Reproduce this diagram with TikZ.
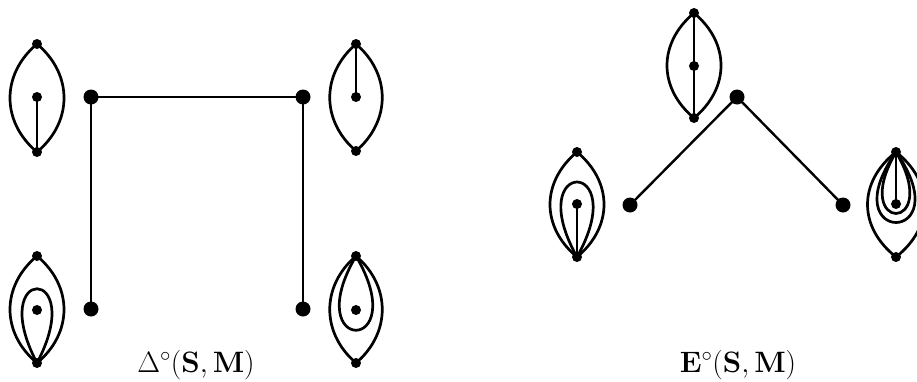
\RequirePackage{fix-cm}
\documentclass[tikz,border=0pt]{standalone}
\usepackage{amsmath}
\begin{document}
\begin{tikzpicture}[x=1pt,y=-1pt,
  bigdot/.style={circle,fill=black,inner sep=0pt,minimum size=15pt},
  smalldot/.style={circle,fill=black,inner sep=0pt,minimum size=10pt},
  edge/.style={line width=2.4pt},
  curve/.style={line width=2.7pt},
  lbl/.style={anchor=base,inner sep=0pt,font=\fontsize{29.5}{34}\selectfont}]
\useasboundingbox (0,0) rectangle (917,381);
% ---------- left diagram ----------
\node[bigdot] (A) at (91,97) {};
\node[bigdot] (B) at (303,97) {};
\node[bigdot] (C) at (91,309) {};
\node[bigdot] (D) at (303,309) {};
\draw[edge] (C.center) -- (A.center) -- (B.center) -- (D.center);
% lens top-left
\node[smalldot] (a1) at (37,44) {};
\node[smalldot] (a2) at (37,152) {};
\node[smalldot] (a3) at (37,97) {};
\draw[curve] (a1.center) .. controls +(-36,30) and +(-36,-30) .. (a2.center);
\draw[curve] (a1.center) .. controls +(36,30) and +(36,-30) .. (a2.center);
\draw[curve] (a2.center) -- (a3.center);
% lens top-right
\node[smalldot] (b1) at (356,44) {};
\node[smalldot] (b2) at (356,151) {};
\node[smalldot] (b3) at (356,97) {};
\draw[curve] (b1.center) .. controls +(-35,30) and +(-35,-30) .. (b2.center);
\draw[curve] (b1.center) .. controls +(35,30) and +(35,-30) .. (b2.center);
\draw[curve] (b1.center) -- (b3.center);
% lens bottom-left
\node[smalldot] (c1) at (37,256) {};
\node[smalldot] (c2) at (37,363) {};
\node[smalldot] (c3) at (37,310) {};
\draw[curve] (c1.center) .. controls +(-36,30) and +(-36,-30) .. (c2.center);
\draw[curve] (c1.center) .. controls +(36,30) and +(36,-30) .. (c2.center);
\draw[curve] (c2.center) .. controls +(-52,-99) and +(52,-99) .. (c2.center);
% lens bottom-right
\node[smalldot] (d1) at (356,256) {};
\node[smalldot] (d2) at (356,363) {};
\node[smalldot] (d3) at (356,310) {};
\draw[curve] (d1.center) .. controls +(-35,30) and +(-35,-30) .. (d2.center);
\draw[curve] (d1.center) .. controls +(35,30) and +(35,-30) .. (d2.center);
\draw[curve] (d1.center) .. controls +(-58,99) and +(58,99) .. (d1.center);
\node[lbl] (L1) at (196,372) {$\Delta^{\circ}(\mathbf{S},\mathbf{M})$};
% ---------- right diagram ----------
\node[bigdot] (E) at (737,97) {};
\node[bigdot] (F) at (630,205) {};
\node[bigdot] (G) at (843,205) {};
\draw[edge] (F.center) -- (E.center) -- (G.center);
% lens top
\node[smalldot] (e1) at (694,13) {};
\node[smalldot] (e2) at (694,118) {};
\node[smalldot] (e3) at (694,66) {};
\draw[curve] (e1.center) .. controls +(-36,30) and +(-36,-30) .. (e2.center);
\draw[curve] (e1.center) .. controls +(36,30) and +(36,-30) .. (e2.center);
\draw[curve] (e1.center) -- (e3.center) -- (e2.center);
% lens left
\node[smalldot] (f1) at (577,152) {};
\node[smalldot] (f2) at (577,257) {};
\node[smalldot] (f3) at (577,204) {};
\draw[curve] (f1.center) .. controls +(-36,30) and +(-36,-30) .. (f2.center);
\draw[curve] (f1.center) .. controls +(36,30) and +(36,-30) .. (f2.center);
\draw[curve] (f2.center) .. controls +(-56,-100) and +(56,-100) .. (f2.center);
\draw[curve] (f2.center) -- (f3.center);
% lens right
\node[smalldot] (g1) at (896,152) {};
\node[smalldot] (g2) at (896,257) {};
\node[smalldot] (g3) at (896,204) {};
\draw[curve] (g1.center) .. controls +(-38,30) and +(-38,-30) .. (g2.center);
\draw[curve] (g1.center) .. controls +(38,30) and +(38,-30) .. (g2.center);
\draw[curve] (g1.center) .. controls +(-66,94) and +(66,94) .. (g1.center);
\draw[curve] (g1.center) .. controls +(-48,82) and +(48,82) .. (g1.center);
\draw[curve] (g1.center) -- (g3.center);
\node[lbl] (L2) at (738,372) {$\mathbf{E}^{\circ}(\mathbf{S},\mathbf{M})$};
\end{tikzpicture}
\end{document}
